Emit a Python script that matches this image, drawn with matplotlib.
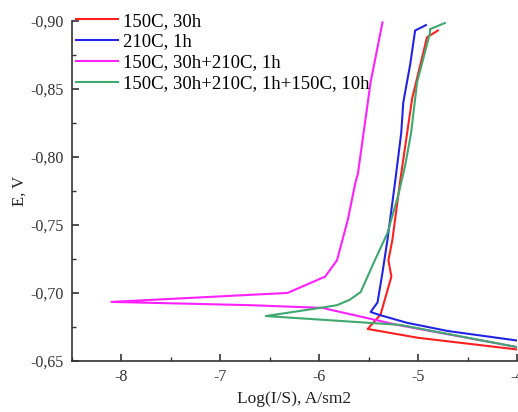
import matplotlib
matplotlib.use("Agg")
import matplotlib.pyplot as plt
from matplotlib.ticker import MultipleLocator, FuncFormatter

plt.rcParams['font.family'] = ['Liberation Serif', 'DejaVu Serif']
plt.rcParams['axes.unicode_minus'] = False

# Data (log current density, potential)
red_x = [-4.80, -4.91, -5.06, -5.11, -5.18, -5.26, -5.30, -5.27, -5.38, -5.51, -5.00, -3.95]
red_y = [-0.893, -0.888, -0.843, -0.818, -0.783, -0.739, -0.724, -0.712, -0.684, -0.6735, -0.667, -0.658]

blue_x = [-4.92, -5.03, -5.08, -5.15, -5.17, -5.23, -5.31, -5.36, -5.41, -5.48, -5.40, -5.11, -4.70, -3.95]
blue_y = [-0.897, -0.893, -0.868, -0.840, -0.818, -0.783, -0.739, -0.715, -0.693, -0.686, -0.684, -0.678, -0.672, -0.6645]

mag_x = [-5.36, -5.48, -5.61, -5.62, -5.64, -5.71, -5.82, -5.94, -6.32, -8.10, -6.70, -5.97, -5.21, -3.95]
mag_y = [-0.899, -0.855, -0.787, -0.785, -0.779, -0.754, -0.724, -0.712, -0.700, -0.6934, -0.691, -0.689, -0.6765, -0.6595]

green_x = [-4.73, -4.88, -4.88, -5.01, -5.07, -5.13, -5.20, -5.31, -5.45, -5.58, -5.69, -5.82, -5.99, -6.54, -5.18, -3.95]
green_y = [-0.8985, -0.894, -0.891, -0.855, -0.818, -0.794, -0.772, -0.744, -0.722, -0.7007, -0.695, -0.691, -0.689, -0.683, -0.6765, -0.6595]

labels = ['150C, 30h', '210C, 1h', '150C, 30h+210C, 1h', '150C, 30h+210C, 1h+150C, 10h']
colors = ['#ff1f1f', '#2323e6', '#ff20ff', '#3fa86e']

fig = plt.figure(figsize=(5.18, 4.12), dpi=100)
ax = fig.add_axes([0.139, 0.124, 0.859, 0.825])

for xs, ys, lab, c in zip([red_x, blue_x, mag_x, green_x],
                          [red_y, blue_y, mag_y, green_y], labels, colors):
    ax.plot(xs, ys, color=c, lw=1.5, label=lab)

ax.set_xlim(-8.5, -4.0)
ax.set_ylim(-0.65, -0.90)

ax.xaxis.set_major_locator(MultipleLocator(1))
ax.xaxis.set_minor_locator(MultipleLocator(0.5))
ax.yaxis.set_major_locator(MultipleLocator(0.05))
ax.yaxis.set_minor_locator(MultipleLocator(0.025))
ax.yaxis.set_major_formatter(FuncFormatter(lambda v, p: ('%.2f' % v).replace('.', ',')))
ax.xaxis.set_major_formatter(FuncFormatter(lambda v, p: '%d' % round(v)))

for s in ['top', 'right']:
    ax.spines[s].set_visible(False)
for s in ['left', 'bottom']:
    ax.spines[s].set_linewidth(1.2)
    ax.spines[s].set_color('#333333')

ax.tick_params(which='major', direction='in', length=5, width=1.2, labelsize=11.5, colors='#333333', pad=6)
ax.tick_params(which='minor', direction='in', length=3, width=1.0, colors='#333333')

ax.set_xlabel('Log(I/S), A/sm2', fontsize=12.5, color='#222222', labelpad=4)
ax.set_ylabel('E, V', fontsize=12, color='#222222', labelpad=2)

ax.legend(loc='upper left', bbox_to_anchor=(0.01, 1.025), frameon=False, fontsize=13.5,
          handlelength=2.2, handletextpad=0.3, labelspacing=0.2, borderpad=0.0,
          borderaxespad=0.0)

fig.savefig('out.png', dpi=100)
